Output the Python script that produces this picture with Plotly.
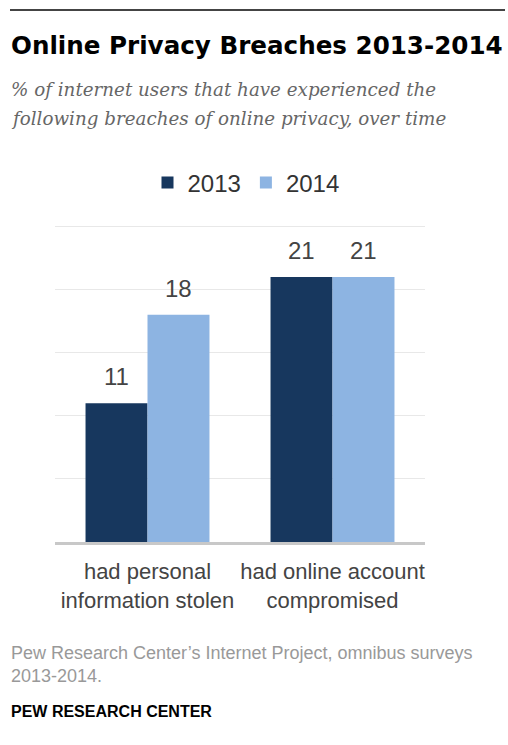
import plotly.graph_objects as go

# Survey data
categories = ["had personal<br>information stolen", "had online account<br>compromised"]
years = ["2013", "2014"]
values_2013 = [11, 21]
values_2014 = [18, 21]
series_colors = ["#17375E", "#8DB4E2"]

W, H = 508, 745
M_L, M_R, M_T, M_B = 55, 83, 224, 203
PLOT_W = W - M_L - M_R
PLOT_H = H - M_T - M_B
Y_MAX = 25.2


def px_x(x):
    return (x - M_L) / PLOT_W


def px_y(y):
    return (H - M_B - y) / PLOT_H


fig = go.Figure()
for name, vals, col in zip(years, [values_2013, values_2014], series_colors):
    fig.add_trace(go.Bar(
        x=categories, y=vals, name=name,
        marker=dict(color=col, line=dict(width=0)),
        hoverinfo="skip",
    ))

# value labels above each bar
bar_px = PLOT_W / 2 * 0.67 / 2
for i, vals in enumerate([values_2013, values_2014]):
    shift = -bar_px / 2 if i == 0 else bar_px / 2
    for cat, v in zip(categories, vals):
        fig.add_annotation(
            x=cat, y=v, xref="x", yref="y", text=str(v), showarrow=False,
            xshift=shift, yshift=11, yanchor="bottom",
            font=dict(family="Liberation Sans, Arial", size=24, color="#444444"),
        )

text_font = "Liberation Sans, Arial"
fig.add_shape(type="line", xref="paper", yref="paper",
              x0=px_x(10), x1=px_x(505), y0=px_y(10), y1=px_y(10),
              line=dict(color="#444444", width=2))
fig.add_annotation(
    xref="paper", yref="paper", x=px_x(9), y=px_y(46), xanchor="left", yanchor="middle",
    text="<b>Online Privacy Breaches 2013-2014</b>", showarrow=False,
    font=dict(family="DejaVu Sans", size=24.6, color="#000000"),
)
subtitle_lines = ["% of internet users that have experienced the",
                  "following breaches of online privacy, over time"]
for line, yc in zip(subtitle_lines, [89, 118]):
    fig.add_annotation(
        xref="paper", yref="paper", x=px_x(9), y=px_y(yc), xanchor="left", yanchor="middle",
        text=f"<i>{line}</i>", showarrow=False, align="left",
        font=dict(family="DejaVu Serif", size=18.3, color="#666666"),
    )
fig.add_annotation(
    xref="paper", yref="paper", x=px_x(9), y=px_y(664), xanchor="left", yanchor="middle",
    text="Pew Research Center’s Internet Project, omnibus surveys<br>2013-2014.",
    showarrow=False, align="left",
    font=dict(family=text_font, size=18, color="#999999"),
)
fig.add_annotation(
    xref="paper", yref="paper", x=px_x(9), y=px_y(711), xanchor="left", yanchor="middle",
    text="<b>PEW RESEARCH CENTER</b>", showarrow=False,
    font=dict(family=text_font, size=16, color="#000000"),
)

fig.update_layout(
    width=W, height=H,
    margin=dict(l=M_L, r=M_R, t=M_T, b=M_B, pad=0),
    paper_bgcolor="white", plot_bgcolor="white",
    barmode="group", bargap=0.33, bargroupgap=0,
    showlegend=True,
    legend=dict(orientation="h", x=px_x(246), xanchor="center", y=px_y(183), yanchor="middle",
                font=dict(family=text_font, size=24, color="#333333"),
                itemwidth=30, traceorder="normal"),
    xaxis=dict(showline=True, linecolor="#C8C8C8", linewidth=3, showgrid=False,
               ticks="outside", ticklen=8, tickcolor="rgba(0,0,0,0)",
               tickfont=dict(family=text_font, size=22, color="#444444")),
    yaxis=dict(range=[0, Y_MAX], dtick=5, showticklabels=False, showgrid=True,
               gridcolor="#E8E8E8", gridwidth=1, zeroline=False, showline=False),
)

fig.write_html("out.html")
